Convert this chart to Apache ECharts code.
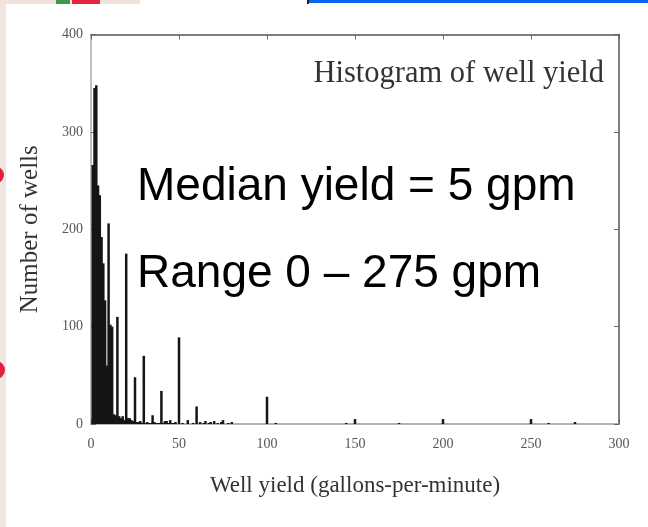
<!DOCTYPE html>
<html>
<head>
<meta charset="utf-8">
<script src="https://cdn.jsdelivr.net/npm/echarts@6/dist/echarts.min.js"></script>
<style>html,body{margin:0;padding:0;background:#fff;}#c{width:648px;height:527px;}</style>
</head>
<body>
<div id="c"></div>
<script>
// Well yield (gpm) bins and number of wells per bin
const yieldValues = [1,2,3,4,5,6,7,8,9,10,11,12,13,14,15,16,17,18,19,20,21,22,23,24,25,26,27,28,29,30,31,32,33,34,35,36,37,38,39,40,41,42,43,44,45,46,47,48,50,52,55,58,60,62,64,65,67,68,70,72,74,75,78,80,100,105,145,150,175,200,250,260,275];
const wellCounts  = [266,345,348,245,235,192,165,127,60,206,102,100,10,9,110,8,6,8,4,175,6,6,4,3,48,2,2,3,1,70,1,2,1,1,9,2,1,1,1,34,1,3,3,1,4,1,1,2,89,1,4,1,18,2,1,3,1,2,3,1,2,4,1,2,28,1,1,5,1,5,5,1,2];
const xTicks = [0,50,100,150,200,250,300];
const yTicks = [0,100,200,300,400];

const chart = echarts.init(document.getElementById('c'));
const serif = 'Liberation Serif';
const frame = {show:true, onZero:false, lineStyle:{color:'#555', width:1.5}};
const tick = {show:true, inside:true, length:5, lineStyle:{color:'#666', width:1}};
chart.setOption({
  backgroundColor:'#fff',
  animation:false,
  grid:{left:91, right:29, top:34.5, bottom:103, containLabel:false},
  xAxis:[{
    type:'value', min:xTicks[0], max:xTicks[xTicks.length-1], interval:50, position:'bottom',
    axisLine:{show:true, onZero:false, lineStyle:{color:'#999', width:1.5}}, axisTick:tick, splitLine:{show:false},
    axisLabel:{fontFamily:serif, fontSize:14, color:'#555', margin:13},
    name:'Well yield (gallons-per-minute)', nameLocation:'middle', nameGap:50,
    nameTextStyle:{fontFamily:serif, fontSize:23, color:'#333'}
  },{
    type:'value', min:0, max:300, interval:50, position:'top',
    axisLine:frame, axisTick:tick, axisLabel:{show:false}, splitLine:{show:false}
  }],
  yAxis:[{
    type:'value', min:yTicks[0], max:yTicks[yTicks.length-1], interval:100, position:'left',
    axisLine:{show:true, onZero:false, lineStyle:{color:'#aaa', width:1.5}}, axisTick:tick, splitLine:{show:false},
    axisLabel:{fontFamily:serif, fontSize:14, color:'#555', margin:8},
    name:'Number of wells', nameLocation:'middle', nameGap:48,
    nameTextStyle:{fontFamily:serif, fontSize:25, color:'#333'}
  },{
    type:'value', min:0, max:400, interval:100, position:'right',
    axisLine:frame, axisTick:tick, axisLabel:{show:false}, splitLine:{show:false}
  }],
  series:[{
    type:'bar', xAxisIndex:0, yAxisIndex:0, barWidth:2.5,
    itemStyle:{color:'#151515'},
    data: yieldValues.map((v,i)=>[v, wellCounts[i]])
  }],
  graphic:[
    {type:'rect', shape:{x:308, y:0, width:340, height:3}, style:{fill:'#0a64f0'}, silent:true},
    {type:'rect', shape:{x:307, y:0, width:2, height:4}, style:{fill:'#222'}, silent:true},
    {type:'rect', shape:{x:0, y:0, width:6, height:527}, style:{fill:'#f2e4df'}, silent:true},
    {type:'rect', shape:{x:0, y:0, width:140, height:4}, style:{fill:'#efe3dc'}, silent:true},
    {type:'rect', shape:{x:56, y:0, width:14, height:4}, style:{fill:'#3c9a4a'}, silent:true},
    {type:'rect', shape:{x:72, y:0, width:28, height:4}, style:{fill:'#e8233f'}, silent:true},
    {type:'circle', shape:{cx:-4, cy:175, r:8}, style:{fill:'#e02040'}, silent:true},
    {type:'circle', shape:{cx:-4, cy:370, r:9}, style:{fill:'#e02040'}, silent:true},
    {type:'text', right:44, top:58, style:{text:'Histogram of well yield', font:'30.5px "Liberation Serif"', fill:'#333'}},
    {type:'text', left:137, top:164, style:{text:'Median yield = 5 gpm', font:'46px "Liberation Sans"', fill:'#000'}},
    {type:'text', left:137, top:251, style:{text:'Range 0 – 275 gpm', font:'46px "Liberation Sans"', fill:'#000'}}
  ]
});
</script>
</body>
</html>
